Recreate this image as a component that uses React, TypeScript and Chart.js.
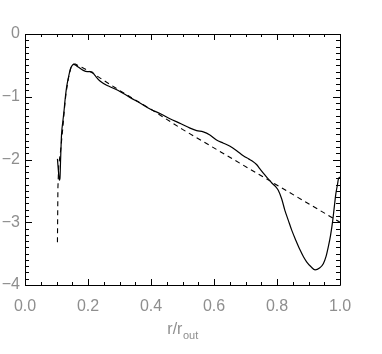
import React, { useEffect, useRef } from "react";
import { Chart, registerables } from "chart.js";

Chart.register(...registerables);

// Solid profile
const solidX = [0.103, 0.106, 0.109, 0.111, 0.113, 0.116, 0.120, 0.124, 0.127, 0.132, 0.138, 0.144, 0.150, 0.155, 0.162, 0.170, 0.185, 0.198, 0.206, 0.214, 0.222, 0.238, 0.265, 0.296, 0.333, 0.365, 0.397, 0.430, 0.460, 0.495, 0.524, 0.545, 0.566, 0.587, 0.608, 0.630, 0.651, 0.672, 0.693, 0.710, 0.720, 0.735, 0.746, 0.762, 0.772, 0.783, 0.795, 0.804, 0.815, 0.825, 0.836, 0.847, 0.860, 0.873, 0.884, 0.894, 0.908, 0.921, 0.935, 0.947, 0.956, 0.963, 0.970, 0.977, 0.982, 0.987, 0.992, 0.995, 1.0];
const solidY = [-1.99, -2.18, -2.33, -2.3, -2.0, -1.6, -1.4, -1.22, -1.06, -0.85, -0.69, -0.56, -0.50, -0.485, -0.50, -0.53, -0.58, -0.60, -0.60, -0.61, -0.66, -0.75, -0.83, -0.90, -1.01, -1.10, -1.195, -1.27, -1.35, -1.43, -1.50, -1.54, -1.56, -1.61, -1.69, -1.74, -1.79, -1.86, -1.94, -1.99, -2.02, -2.08, -2.15, -2.25, -2.31, -2.37, -2.43, -2.49, -2.63, -2.81, -2.97, -3.13, -3.29, -3.44, -3.55, -3.63, -3.71, -3.76, -3.73, -3.66, -3.54, -3.39, -3.21, -2.97, -2.75, -2.54, -2.40, -2.31, -2.28];

// Dashed fit
const dashX = [0.103, 0.1045, 0.107, 0.113, 0.120, 0.125, 0.130, 0.138, 0.145, 0.152, 0.160, 0.180, 0.200, 0.220, 0.250, 0.300, 0.350, 0.400, 0.450, 0.500, 1.0];
const dashY = [-3.32, -2.45, -2.1, -1.86, -1.5, -1.2, -0.95, -0.7, -0.55, -0.48, -0.48, -0.53, -0.58, -0.64, -0.74, -0.90, -1.05, -1.20, -1.36, -1.52, -3.0];

// Axes
const xMajorTicks = [0, 0.2, 0.4, 0.6, 0.8, 1.0];
const yMajorTicks = [-4, -3, -2, -1, 0];
const xMinorStep = 0.05;
const yMinorStep = 0.1;
const xTitleMain = "r/r";
const xTitleSub = "out";

const LABEL_COLOR = "#8e8e8e";
const FONT = "'Liberation Sans', Arial, sans-serif";

const framePlugin = {
  id: "idlFrame",
  afterDraw(chart: any) {
    const { ctx, chartArea: a, scales } = chart;
    const xs = scales.x;
    const ys = scales.y;
    ctx.save();
    ctx.strokeStyle = "#000";
    ctx.lineWidth = 1;
    ctx.beginPath();
    ctx.rect(Math.round(a.left) + 0.5, Math.round(a.top) + 0.5, Math.round(a.right - a.left), Math.round(a.bottom - a.top));
    ctx.stroke();
    // x ticks
    const nX = Math.round((xs.max - xs.min) / xMinorStep);
    ctx.beginPath();
    for (let i = 0; i <= nX; i++) {
      const v = xs.min + i * xMinorStep;
      const major = xMajorTicks.some((t) => Math.abs(t - v) < 1e-6);
      const len = major ? 6 : 3;
      const px = Math.round(xs.getPixelForValue(v)) + 0.5;
      ctx.moveTo(px, a.bottom);
      ctx.lineTo(px, a.bottom - len);
      ctx.moveTo(px, a.top);
      ctx.lineTo(px, a.top + len);
    }
    // y ticks
    const nY = Math.round((ys.max - ys.min) / yMinorStep);
    for (let i = 0; i <= nY; i++) {
      const v = ys.min + i * yMinorStep;
      const major = yMajorTicks.some((t) => Math.abs(t - v) < 1e-6);
      const len = major ? 7 : 4;
      const py = Math.round(ys.getPixelForValue(v)) + 0.5;
      ctx.moveTo(a.left, py);
      ctx.lineTo(a.left + len, py);
      ctx.moveTo(a.right, py);
      ctx.lineTo(a.right - len, py);
    }
    ctx.stroke();

    // x title with subscript
    ctx.fillStyle = LABEL_COLOR;
    ctx.textBaseline = "alphabetic";
    ctx.textAlign = "left";
    const mainFont = `16px ${FONT}`;
    const subFont = `11px ${FONT}`;
    ctx.font = mainFont;
    const w1 = ctx.measureText(xTitleMain).width;
    ctx.font = subFont;
    const w2 = ctx.measureText(xTitleSub).width;
    const cx = (a.left + a.right) / 2;
    const x0 = cx - (w1 + w2) / 2;
    const base = a.bottom + 49;
    ctx.font = mainFont;
    ctx.fillText(xTitleMain, x0, base);
    ctx.font = subFont;
    ctx.fillText(xTitleSub, x0 + w1 + 0.5, base + 5);
    ctx.restore();
  },
};

export default function App() {
  const ref = useRef<HTMLCanvasElement>(null);
  useEffect(() => {
    if (!ref.current) return;
    const chart = new Chart(ref.current, {
      type: "line",
      data: {
        datasets: [
          {
            data: solidX.map((x, i) => ({ x, y: solidY[i] })),
            borderColor: "#000",
            borderWidth: 1.2,
            pointRadius: 0,
            cubicInterpolationMode: "monotone",
            fill: false,
          },
          {
            data: dashX.map((x, i) => ({ x, y: dashY[i] })),
            borderColor: "#000",
            borderWidth: 1.1,
            borderDash: [5, 4],
            pointRadius: 0,
            tension: 0,
            fill: false,
          },
        ],
      },
      options: {
        animation: false,
        responsive: true,
        maintainAspectRatio: false,
        layout: { padding: { top: 34, right: 42, left: 0, bottom: 0 } },
        plugins: { legend: { display: false }, tooltip: { enabled: false } },
        scales: {
          x: {
            type: "linear",
            min: 0,
            max: 1,
            afterBuildTicks: (s: any) => {
              s.ticks = xMajorTicks.map((v) => ({ value: v }));
            },
            afterFit: (s: any) => {
              s.height = 69;
            },
            grid: { display: false, drawTicks: false },
            border: { display: false },
            ticks: {
              padding: 12,
              maxRotation: 0,
              autoSkip: false,
              color: LABEL_COLOR,
              font: { size: 16, family: FONT },
              callback: (v: any) => Number(v).toFixed(1),
            },
          },
          y: {
            type: "linear",
            min: -4,
            max: 0,
            afterBuildTicks: (s: any) => {
              s.ticks = yMajorTicks.map((v) => ({ value: v }));
            },
            afterFit: (s: any) => {
              s.width = 25;
            },
            grid: { display: false, drawTicks: false },
            border: { display: false },
            ticks: {
              padding: 5,
              autoSkip: false,
              color: LABEL_COLOR,
              font: { size: 16, family: FONT },
              callback: (v: any) => (Number(v) === 0 ? "0" : "\u2212" + Math.abs(Number(v))),
            },
          },
        },
      },
      plugins: [framePlugin],
    });
    return () => chart.destroy();
  }, []);
  return (
    <div style={{ position: "fixed", left: 0, top: 0, width: 382, height: 354, background: "#fff" }}>
      <canvas ref={ref} />
    </div>
  );
}
